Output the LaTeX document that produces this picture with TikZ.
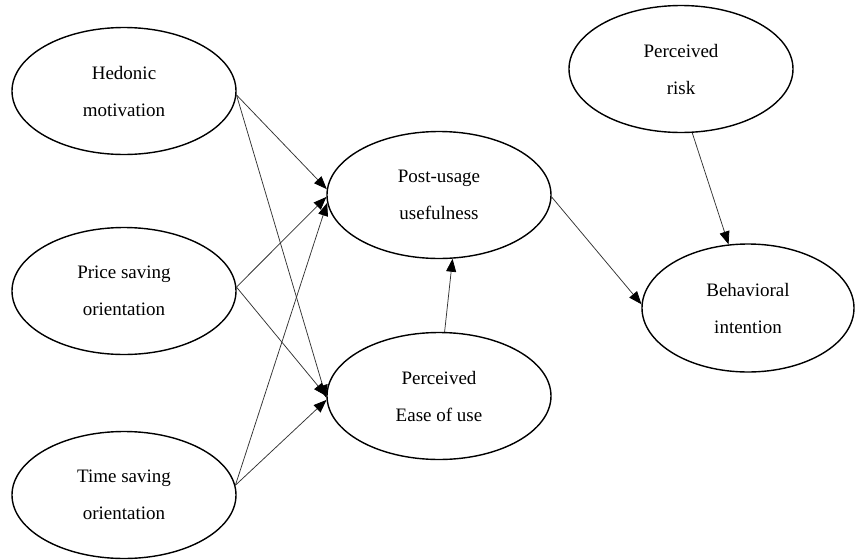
\documentclass[tikz,border=0pt]{standalone}
\usepackage{fontspec}
\setmainfont{Liberation Serif}
\usetikzlibrary{shapes.geometric,arrows.meta}
\tikzset{
  construct/.style={ellipse, draw=black, line width=1.4pt, minimum width=224pt, minimum height=127pt, inner sep=0pt, align=center, font=\fontsize{19}{37}\selectfont},
  path/.style={draw=black!80, line width=0.75pt, -{Triangle[length=13pt,width=10pt,color=black]}}
}
\begin{document}
\begin{tikzpicture}[x=1pt,y=-1pt]
\useasboundingbox (0,0) rectangle (855,560);
\node[construct] (hed) at (124,91) {Hedonic\\motivation};
\node[construct] (pri) at (124,291) {Price saving\\orientation};
\node[construct] (tim) at (124,495) {Time saving\\orientation};
\node[construct] (pu) at (439,195) {Post-usage\\usefulness};
\node[construct] (ease) at (439,396) {Perceived\\Ease of use};
\node[construct] (risk) at (681,69) {Perceived\\risk};
\node[construct, minimum width=212pt, minimum height=128pt] (beh) at (748,308) {Behavioral\\intention};
\draw[path] (hed.-2) -- (pu.177);
\draw[path] (hed.-2) -- (ease.181);
\draw[path] (pri.2) -- (pu.181);
\draw[path] (pri.2) -- (ease.180);
\draw[path] (tim.5) -- (pu.184);
\draw[path] (tim.5) -- (ease.182);
\draw[path] (ease.85) -- (pu.-78);
\draw[path] (pu.-1) -- (beh.178);
\draw[path] (risk.-80) -- (beh.107);
\end{tikzpicture}
\end{document}
